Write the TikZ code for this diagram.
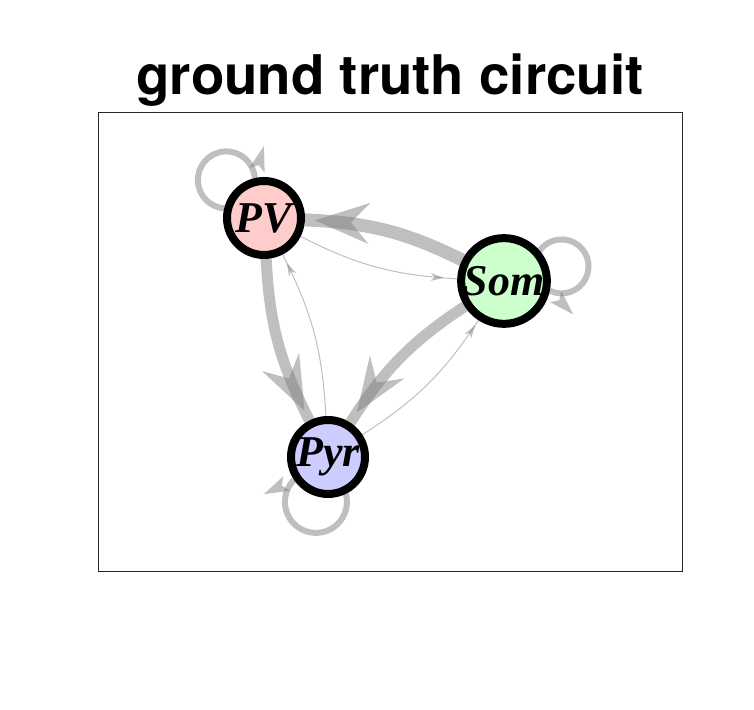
\documentclass[tikz,border=0pt]{standalone}
\usepackage{fontspec}
\setmainfont{Liberation Serif}
\newfontfamily\headfont{TeX Gyre Heros}
\usetikzlibrary{arrows.meta,decorations.markings,backgrounds}

\definecolor{pvpink}{RGB}{255,204,204}
\definecolor{somgreen}{RGB}{204,255,204}
\definecolor{pyrblue}{RGB}{204,204,255}
\definecolor{axisgray}{RGB}{38,38,38}

\tikzset{
  cell/.style={circle,draw=black,line width=6pt,minimum size=55.5pt,inner sep=0pt,
    font=\fontsize{33}{33}\selectfont\bfseries\itshape},
  headat/.style n args={2}{postaction={decorate},
    decoration={markings,mark=at position #1 with {\arrow{Stealth[line width=0pt,#2]}}}},
  synapse/.style={draw=gray,opacity=0.5,bend right=12},
  strong/.style={synapse,line width=8.25pt,headat={#1}{length=41pt,width=31pt,inset=14pt}},
  weak/.style={synapse,line width=0.75pt,headat={#1}{length=10pt,width=6pt,inset=3pt}},
  selfloop/.style={draw=gray,opacity=0.5,line width=4.5pt,postaction={decorate},
    decoration={markings,mark=at position 0.1pt with {\begin{scope}[rotate=-20,xshift=25pt]
      \arrow{Stealth[line width=0pt,length=19pt,width=12pt,inset=4pt]}\end{scope}}}}
}

\begin{document}
\begin{tikzpicture}[x=0.75pt,y=0.75pt]
\useasboundingbox (0,0) rectangle (754,710);

% Title
\node[font=\headfont\bfseries\fontsize{41}{41}\selectfont,anchor=base] (title) at (390,615) {ground truth circuit};
% Axes frame
\draw[axisgray,line width=0.75pt] (98,138) rectangle (682,597);

% Cells
\node[cell,fill=pvpink] (pv) at (264,492) {PV};
\node[cell,fill=somgreen] (som) at (504,429) {Som};
\node[cell,fill=pyrblue] (pyr) at (328,253) {Pyr};

% Connections
\begin{scope}[on background layer]
\draw[strong=-7.5pt,line width=9.75pt] (som) to (pv);
\draw[weak=-10pt] (pv) to (som);
\draw[strong=-8pt] (pv) to (pyr);
\draw[weak=-7pt] (pyr) to (pv);
\draw[strong=-9pt] (som) to (pyr);
\draw[weak=-4.5pt] (pyr) to (som);
% self loops
\draw[selfloop] (pv.103) arc[start angle=3.8,end angle=266.2,radius=28.5];
\draw[selfloop] (som.-12) arc[start angle=244.3,end angle=510,radius=27];
\draw[selfloop] (pyr.214) arc[start angle=135,end angle=375.2,radius=31];
\end{scope}
\end{tikzpicture}
\end{document}
